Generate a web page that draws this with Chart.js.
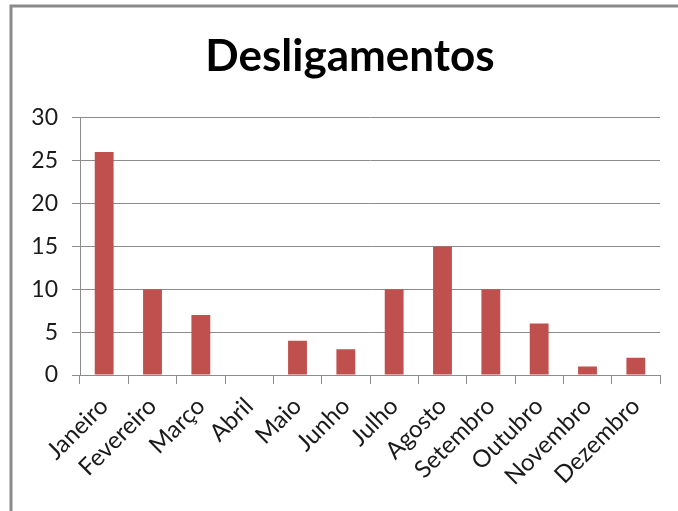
<!DOCTYPE html>
<html lang="pt">
<head>
  <meta charset="UTF-8" />
  <title>Desligamentos</title>
  <script src="https://cdn.jsdelivr.net/npm/chart.js"></script>
  <style>
    body {
      margin: 0;
      background: #fff;
    }
    .wrap {
      position: relative;
      width: 678px;
      height: 511px;
    }
  </style>
</head>
<body>
  <div class="wrap">
    <canvas id="chart" width="678" height="511"></canvas>
  </div>

  <script>
    const months = ['Janeiro', 'Fevereiro', 'Março', 'Abril', 'Maio', 'Junho',
                    'Julho', 'Agosto', 'Setembro', 'Outubro', 'Novembro', 'Dezembro'];
    const desligamentos = [26, 10, 7, 0, 4, 3, 10, 15, 10, 6, 1, 2];
    const yTicks = [0, 5, 10, 15, 20, 25, 30];

    const gray = '#8c8c8c';

    // outer frame like the spreadsheet chart border
    const framePlugin = {
      id: 'frame',
      afterLayout(chart) {
        // title is centred on the whole chart box in the original, a bit right of ours
        if (chart.titleBlock) chart.titleBlock.left += 40;
      },
      beforeDraw(chart) {
        const c = chart.ctx;
        c.save();
        c.strokeStyle = '#8a8a8a';
        c.lineWidth = 3;
        c.beginPath();
        c.moveTo(11, 511);
        c.lineTo(11, 6);
        c.lineTo(678, 6);
        c.stroke();
        c.restore();
      }
    };

    new Chart(document.getElementById('chart'), {
      type: 'bar',
      data: {
        labels: months,
        datasets: [{
          label: 'Desligamentos',
          data: desligamentos,
          backgroundColor: '#c0504d',
          barPercentage: 0.39,
          categoryPercentage: 1
        }]
      },
      options: {
        responsive: false,
        animation: false,
        layout: { padding: { left: 0, right: 18, top: 0, bottom: 0 } },
        scales: {
          x: {
            grid: {
              offset: true,
              drawOnChartArea: false,
              drawTicks: true,
              tickLength: 9,
              color: gray
            },
            border: { color: gray, width: 1 },
            ticks: {
              color: '#1a1a1a',
              font: { family: 'Lato', size: 24 },
              minRotation: 45,
              maxRotation: 45,
              autoSkip: false,
              padding: 8
            },
            afterFit(scale) { scale.height = 136; }
          },
          y: {
            min: 0,
            max: 30,
            afterBuildTicks(scale) { scale.ticks = yTicks.map(v => ({ value: v })); },
            grid: { color: gray, tickLength: 8 },
            border: { color: gray, width: 1 },
            ticks: {
              color: '#1a1a1a',
              font: { family: 'Lato', size: 23 },
              padding: 14
            },
            afterFit(scale) { scale.width = 80; }
          }
        },
        plugins: {
          legend: { display: false },
          tooltip: { enabled: false },
          title: {
            display: true,
            text: 'Desligamentos',
            color: '#000',
            font: { family: 'Lato', size: 44, weight: 'bold', lineHeight: 1.2 },
            padding: { top: 30, bottom: 35 }
          }
        }
      },
      plugins: [framePlugin]
    });
  </script>
</body>
</html>
